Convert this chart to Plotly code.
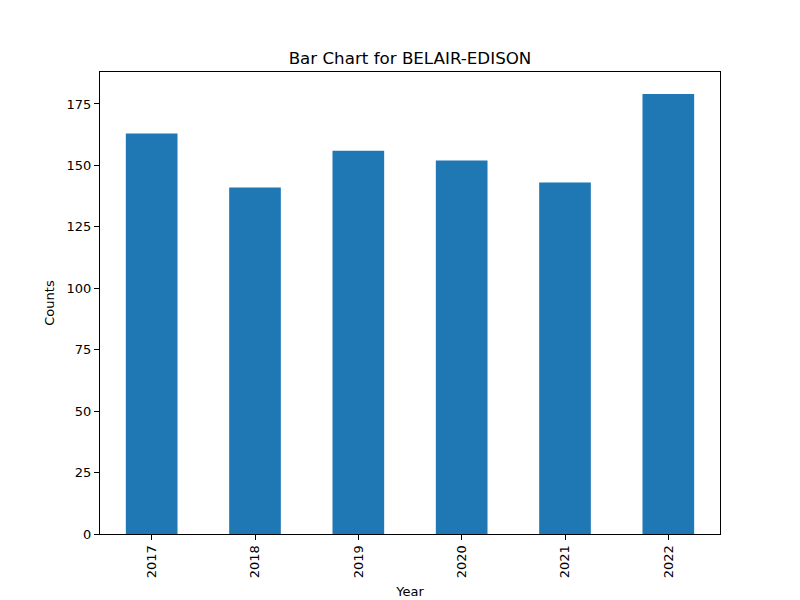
import plotly.graph_objects as go

# Data
years = ["2017", "2018", "2019", "2020", "2021", "2022"]
counts = [163, 141, 156, 152, 143, 179]

y_ticks = [0, 25, 50, 75, 100, 125, 150, 175]

fig = go.Figure([go.Bar(x=years, y=counts, marker_color="#1f77b4",
                        marker_line_width=0, width=0.5)])

axis_style = dict(showline=True, linecolor="black", linewidth=1, mirror=True,
                  ticks="outside", ticklen=5, tickcolor="black",
                  showgrid=False, zeroline=False,
                  tickfont=dict(size=13, color="black"))

# page body has an 8px margin, so the margins are shifted by that much
fig.update_layout(
    width=800, height=600,
    margin=dict(l=92, r=88, t=64, b=74),
    plot_bgcolor="white", paper_bgcolor="white",
    font=dict(family="DejaVu Sans", color="black"),
    title=dict(text="Bar Chart for BELAIR-EDISON", xref="paper", x=0.5,
               xanchor="center", yref="paper", y=1, yanchor="bottom",
               pad=dict(b=8), font=dict(size=16.7)),
    showlegend=False,
)
fig.update_xaxes(axis_style, type="category", range=[-0.5, 5.5], tickangle=-90,
                 title=dict(text="Year", font=dict(size=13), standoff=9))
fig.update_yaxes(axis_style, range=[0, 188], tickvals=y_ticks,
                 title=dict(text="Counts", font=dict(size=13), standoff=9))

fig.write_html("out.html")
